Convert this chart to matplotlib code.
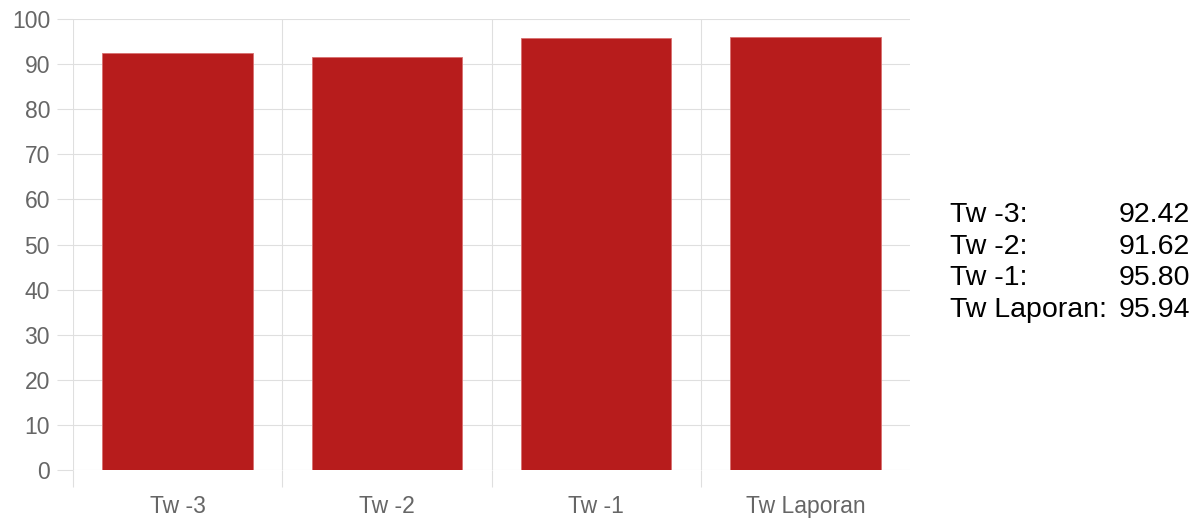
import matplotlib
matplotlib.use("Agg")
import matplotlib.pyplot as plt

categories = ["Tw -3", "Tw -2", "Tw -1", "Tw Laporan"]
scores = [92.42, 91.62, 95.80, 95.94]
y_ticks = list(range(0, 101, 10))

plt.rcParams["font.family"] = ["Liberation Sans", "DejaVu Sans"]

bar_color = "#b71c1c"
grid_color = "#dfdfdf"
label_color = "#666666"

fig = plt.figure(figsize=(12.02, 5.19), dpi=100)
ax = fig.add_axes([73 / 1202, 49 / 519, 837 / 1202, 451 / 519])

positions = list(range(len(categories)))
ax.bar(positions, scores, width=0.72, color=bar_color,
       edgecolor="#d87070", linewidth=0.6, zorder=3)

ax.set_xlim(-0.5, len(categories) - 0.5)
ax.set_ylim(0, 100)

# category labels centred, grid lines on category boundaries
ax.set_xticks(positions)
ax.set_xticklabels(categories)
ax.set_xticks([p - 0.5 for p in positions], minor=True)
ax.tick_params(axis="x", which="major", length=0, pad=18,
               labelsize=16.5, labelcolor=label_color)
ax.tick_params(axis="x", which="minor", length=12, width=0.8,
               color=grid_color)
ax.grid(axis="x", which="minor", color=grid_color, linewidth=0.8, zorder=0)

ax.set_yticks(y_ticks)
ax.tick_params(axis="y", length=11.5, width=0.8, color=grid_color, pad=5,
               labelsize=16.5, labelcolor=label_color)
ax.grid(axis="y", color=grid_color, linewidth=0.8, zorder=0)

for spine in ax.spines.values():
    spine.set_visible(False)

# summary list on the right
line_y = [215, 247, 278, 310]
for name, value, y in zip(categories, scores, line_y):
    fig.text(950 / 1202, 1 - y / 519, f"{name}:", fontsize=20.5,
             ha="left", va="center", color="black")
    fig.text(1190 / 1202, 1 - y / 519, f"{value:.2f}", fontsize=20.5,
             ha="right", va="center", color="black")

fig.savefig("out.png", dpi=100)
